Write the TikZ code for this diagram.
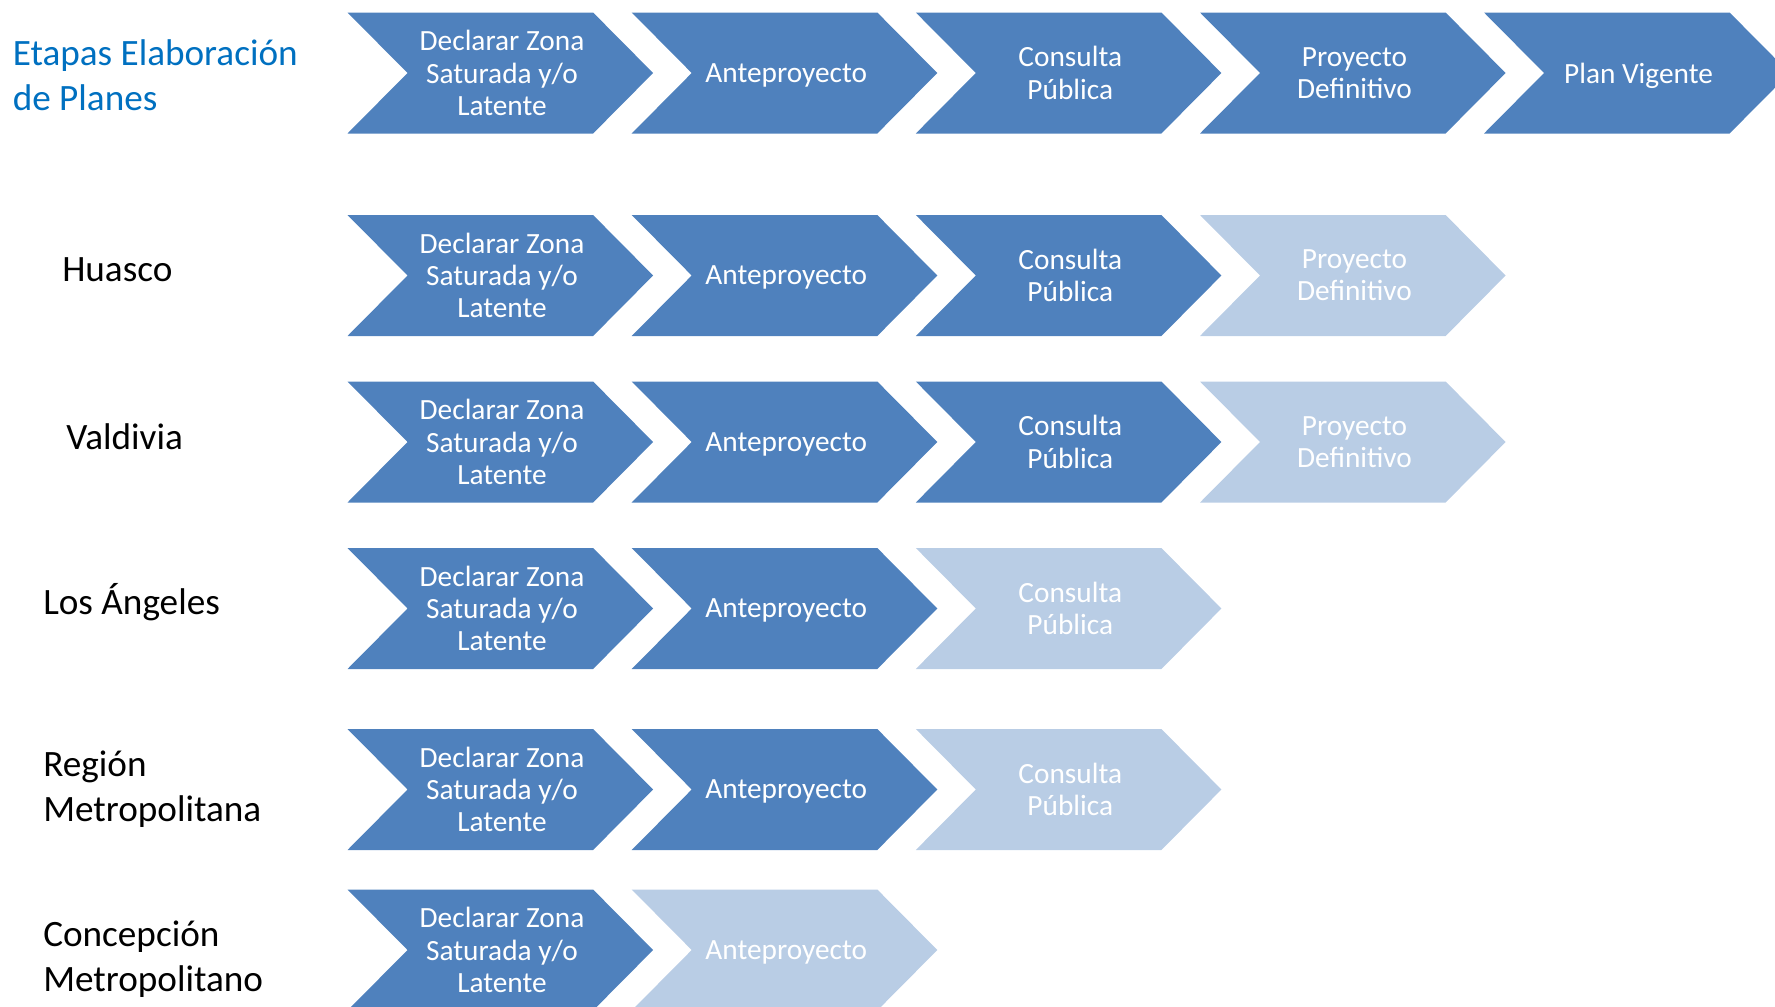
\documentclass[tikz,border=0pt]{standalone}
\usepackage{fontspec}
\setmainfont{Carlito}
\definecolor{dkblue}{RGB}{79,129,189}
\definecolor{ltblue}{RGB}{185,205,229}
\definecolor{ttlblue}{RGB}{0,112,192}
\tikzset{
  chtext/.style={text=white, align=center, font=\fontsize{22}{24.2}\selectfont, inner sep=0pt},
  chone/.style={chtext, yshift=-1.8pt},
  rowlabel/.style={anchor=west, align=left, inner sep=0pt, font=\fontsize{27.9}{33.8}\selectfont},
  ttl/.style={rowlabel, text=ttlblue}
}
\newcommand\chevron[6][chtext]{%
  \fill[#5] (#3,#4-60.5) -- ++(245.6,0) -- ++(60,60.5) -- ++(-60,60.5) -- ++(-245.6,0) -- ++(60,-60.5) -- cycle;
  \node[#1] (#2) at (#3+154.5,#4) {#6};
}
\begin{document}
\begin{tikzpicture}[x=0.75pt,y=-0.75pt]
\useasboundingbox (0,0) rectangle (1775,1007);
\def\cA{347.5}\def\cB{631.7}\def\cC{915.8}\def\cD{1200}\def\cE{1484}
\def\decl{Declarar Zona\\Saturada y/o\\Latente}
% Row 0
\node[ttl] (title) at (12.5,75.5) {Etapas Elaboración\\de Planes};
\chevron{r0a}{\cA}{73}{dkblue}{\decl}
\chevron[chone]{r0b}{\cB}{73}{dkblue}{Anteproyecto}
\chevron{r0c}{\cC}{73}{dkblue}{Consulta\\Pública}
\chevron{r0d}{\cD}{73}{dkblue}{Proyecto\\Definitivo}
\chevron[chone]{r0e}{\cE}{73}{dkblue}{Plan Vigente}
% Huasco
\node[rowlabel] (huasco) at (62,270) {Huasco};
\chevron{r1a}{\cA}{275.5}{dkblue}{\decl}
\chevron[chone]{r1b}{\cB}{275.5}{dkblue}{Anteproyecto}
\chevron{r1c}{\cC}{275.5}{dkblue}{Consulta\\Pública}
\chevron{r1d}{\cD}{275.5}{ltblue}{Proyecto\\Definitivo}
% Valdivia
\node[rowlabel] (valdivia) at (66,436.5) {Valdivia};
\chevron{r2a}{\cA}{442}{dkblue}{\decl}
\chevron[chone]{r2b}{\cB}{442}{dkblue}{Anteproyecto}
\chevron{r2c}{\cC}{442}{dkblue}{Consulta\\Pública}
\chevron{r2d}{\cD}{442}{ltblue}{Proyecto\\Definitivo}
% Los Angeles
\node[rowlabel] (angeles) at (43,602.5) {Los Ángeles};
\chevron{r3a}{\cA}{608.5}{dkblue}{\decl}
\chevron[chone]{r3b}{\cB}{608.5}{dkblue}{Anteproyecto}
\chevron{r3c}{\cC}{608.5}{ltblue}{Consulta\\Pública}
% Region Metropolitana
\node[rowlabel] (rm) at (43,789.5) {Región\\Metropolitana};
\chevron{r4a}{\cA}{789.5}{dkblue}{\decl}
\chevron[chone]{r4b}{\cB}{789.5}{dkblue}{Anteproyecto}
\chevron{r4c}{\cC}{789.5}{ltblue}{Consulta\\Pública}
% Concepcion
\node[rowlabel] (conce) at (43,959.5) {Concepción\\Metropolitano};
\chevron{r5a}{\cA}{950}{dkblue}{\decl}
\chevron[chone]{r5b}{\cB}{950}{ltblue}{Anteproyecto}
\end{tikzpicture}
\end{document}
